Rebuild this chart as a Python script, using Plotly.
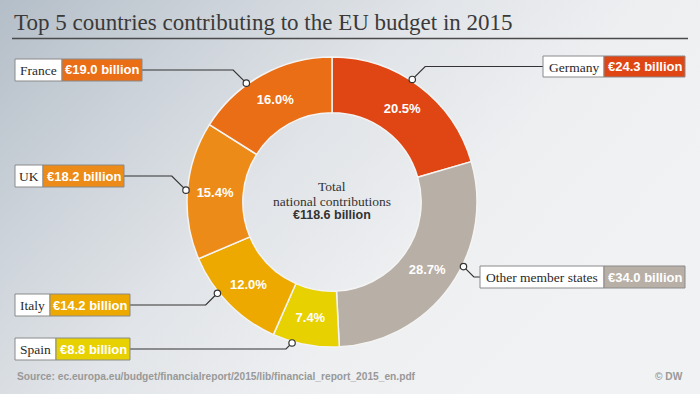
import base64
import math
import plotly.graph_objects as go

# ---------------- data ----------------
countries = ["Germany", "Other member states", "Spain", "Italy", "UK", "France"]
values_bn = [24.3, 34.0, 8.8, 14.2, 18.2, 19.0]
pct_labels = ["20.5%", "28.7%", "7.4%", "12.0%", "15.4%", "16.0%"]
value_labels = ["€24.3 billion", "€34.0 billion", "€8.8 billion", "€14.2 billion",
                "€18.2 billion", "€19.0 billion"]
total_label = "€118.6 billion"
title_text = "Top 5 countries contributing to the EU budget in 2015"
source_text = "Source: ec.europa.eu/budget/financialreport/2015/lib/financial_report_2015_en.pdf"

# ---------------- styles ----------------
colors = ["#E04614", "#B8AFA6", "#E8D100", "#EDA900", "#EC8B17", "#EA6E15"]
W, H = 700, 394
SERIF = "Liberation Serif, Times New Roman, serif"
SANS = "Liberation Sans, Arial, sans-serif"

# pie geometry (pixels)
CX, CY, R = 332, 202, 145
HOLE = 0.615

# label boxes (pixels): x0, split, x1, y0, y1, side
boxes = [
    (543, 604, 685, 56, 77, "right"),
    (480, 604, 685, 266, 288, "right"),
    (15, 56, 130, 338, 360, "left"),
    (15, 50, 130, 294, 316, "left"),
    (15, 43, 124, 165, 187, "left"),
    (15, 62, 142, 59, 81, "left"),
]
# where on each slice (fraction of its angular span) the connector attaches
anchor_frac = [0.45, 0.41, 0.70, 0.64, 0.5, 0.38]


def px(x):
    return x / W


def py(y):
    return 1 - y / H


def txt(x, y, text, font, xanchor="center"):
    return dict(x=px(x), y=py(y), xref="paper", yref="paper", text=text,
                showarrow=False, xanchor=xanchor, yanchor="middle", font=font)


# background gradient as svg
svg = f"""<svg xmlns='http://www.w3.org/2000/svg' width='{W}' height='{H}' viewBox='0 0 {W} {H}' preserveAspectRatio='none'>
<defs><linearGradient id='g' gradientUnits='userSpaceOnUse' x1='0' y1='0' x2='470' y2='430'>
<stop offset='0' stop-color='#B4BEC8'/>
<stop offset='0.25' stop-color='#CBD2D9'/>
<stop offset='0.5' stop-color='#E1E4E8'/>
<stop offset='0.75' stop-color='#EDEFF1'/>
<stop offset='1' stop-color='#F1F2F4'/>
</linearGradient></defs>
<rect x='0' y='0' width='{W}' height='{H}' fill='url(#g)'/></svg>"""
bg_uri = "data:image/svg+xml;base64," + base64.b64encode(svg.encode()).decode()

fig = go.Figure()
fig.add_trace(go.Pie(
    labels=countries,
    values=values_bn,
    text=pct_labels,
    texttemplate="%{text}",
    textposition="inside",
    insidetextorientation="horizontal",
    textfont=dict(family=SANS, size=13, color="white", weight="bold"),
    marker=dict(colors=colors, line=dict(color="#F4F4F4", width=1.5)),
    hole=HOLE,
    sort=False,
    direction="clockwise",
    rotation=0,
    showlegend=False,
    hoverinfo="label+value",
    domain=dict(x=[px(CX - R), px(CX + R)], y=[py(CY + R), py(CY - R)]),
))

shapes = []
annotations = []

# title + underline
annotations.append(txt(12, 22, title_text, dict(family=SERIF, size=23, color="#3A3A3A"),
                       xanchor="left"))
shapes.append(dict(type="line", xref="paper", yref="paper", x0=px(12), x1=px(688),
                   y0=py(38.5), y1=py(38.5), line=dict(color="#4A4A4A", width=1.5)))

# center text
annotations.append(txt(CX, 186, "Total", dict(family=SERIF, size=13.5, color="#333")))
annotations.append(txt(CX, 201, "national contributions",
                       dict(family=SERIF, size=13.5, color="#333")))
annotations.append(txt(CX, 215.5, total_label,
                       dict(family=SANS, size=12.5, color="#333", weight="bold")))

# labels with connectors
total = sum(values_bn)
cum = 0.0
for i, (name, val) in enumerate(zip(countries, values_bn)):
    start = cum / total * 360
    span = val / total * 360
    cum += val
    ang = math.radians(start + anchor_frac[i] * span)
    ax = CX + (R + 1.5) * math.sin(ang)
    ay = CY - (R + 1.5) * math.cos(ang)
    x0, xs, x1, y0, y1, side = boxes[i]
    ymid = (y0 + y1) / 2
    dy = abs(ymid - ay)
    if side == "left":
        bx = ax - dy
        edge = x1
    else:
        bx = ax + dy
        edge = x0
    path = f"M {px(ax)},{py(ay)} L {px(bx)},{py(ymid)} L {px(edge)},{py(ymid)}"
    shapes.append(dict(type="path", xref="paper", yref="paper", path=path,
                       line=dict(color="#333", width=1.2)))
    rr = 3.2
    shapes.append(dict(type="circle", xref="paper", yref="paper",
                       x0=px(ax - rr), x1=px(ax + rr), y0=py(ay + rr), y1=py(ay - rr),
                       fillcolor="white", line=dict(color="#333", width=1.2)))
    # name box
    shapes.append(dict(type="rect", xref="paper", yref="paper",
                       x0=px(x0), x1=px(xs), y0=py(y1), y1=py(y0),
                       fillcolor="white", line=dict(color="#8A8A8A", width=1)))
    # value box
    shapes.append(dict(type="rect", xref="paper", yref="paper",
                       x0=px(xs), x1=px(x1), y0=py(y1), y1=py(y0),
                       fillcolor=colors[i], line=dict(color="#8A8A8A", width=1)))
    annotations.append(txt((x0 + xs) / 2, ymid + 0.5, name,
                           dict(family=SERIF, size=13.5, color="#2A2A2A")))
    annotations.append(txt((xs + x1) / 2, ymid, value_labels[i],
                           dict(family=SANS, size=13, color="white", weight="bold")))

# source + credit
annotations.append(txt(15, 376, source_text,
                       dict(family=SANS, size=10.2, color="#999999", weight="bold"),
                       xanchor="left"))
annotations.append(txt(685, 376, "© DW",
                       dict(family=SANS, size=10.2, color="#999999", weight="bold"),
                       xanchor="right"))

fig.update_layout(
    width=W, height=H,
    margin=dict(l=0, r=0, t=0, b=0),
    paper_bgcolor="#E6E9EC",
    plot_bgcolor="rgba(0,0,0,0)",
    images=[dict(source=bg_uri, xref="paper", yref="paper", x=0, y=1, sizex=1, sizey=1,
                 xanchor="left", yanchor="top", sizing="stretch", layer="below")],
    shapes=shapes,
    annotations=annotations,
)

fig.write_html("out.html",
               config={"displayModeBar": False},
               post_script="document.body.style.margin='0';document.body.style.overflow='hidden';")
